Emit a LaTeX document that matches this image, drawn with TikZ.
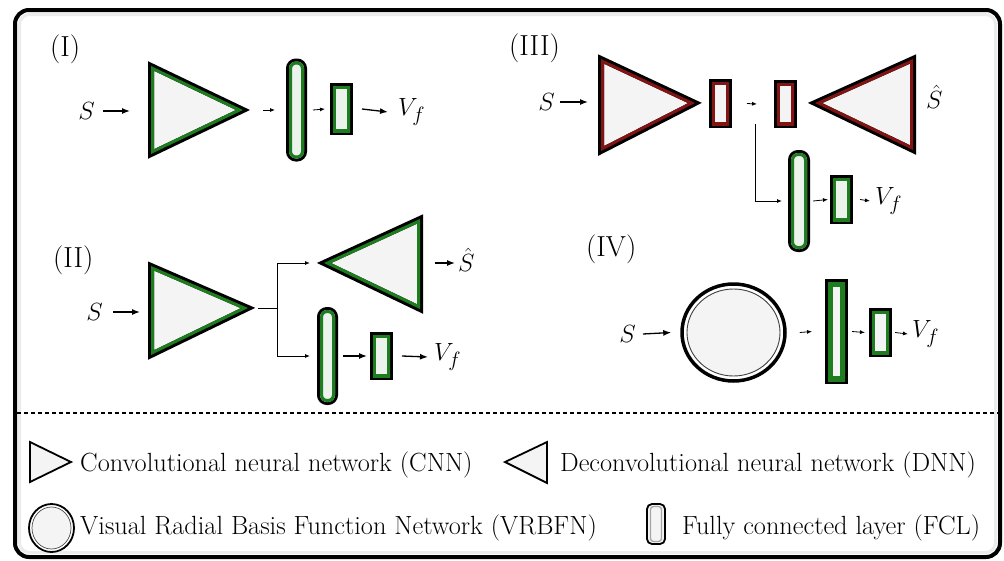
\documentclass[tikz,border=0pt]{standalone}
\usetikzlibrary{arrows.meta,shapes.geometric}
\definecolor{gband}{RGB}{30,125,30}
\definecolor{rband}{RGB}{130,20,20}
\definecolor{shfill}{RGB}{244,244,244}
\definecolor{gfill}{RGB}{236,243,236}
\newcommand\bandtri[3]{%
  \fill[shfill] #3;
  \draw[black, line width=6pt, miter limit=6] #3;
  \begin{scope}\clip #3; \draw[#1, line width=#2] #3; \end{scope}}
\tikzset{
 arr/.style={line width=1.3pt, -{Latex[length=8pt,width=6pt]}},
 sarr/.style={line width=0.8pt, -{Latex[length=5pt,width=4pt]}},
 plainline/.style={line width=0.9pt},
 mth/.style={inner sep=0pt, font=\fontsize{31}{33}\selectfont},
 lab/.style={inner sep=0pt, font=\fontsize{29}{32}\selectfont, anchor=base west},
 leg/.style={inner sep=0pt, font=\fontsize{26.3}{30}\selectfont, anchor=base west},
 band/.style n args={3}{rectangle, inner sep=0pt, outer sep=0pt,
   preaction={draw=black, line width=6pt}, fill=#3,
   path picture={\draw[#1, line width=#2] (path picture bounding box.south west) rectangle (path picture bounding box.north east);}},
 fclbox/.style={rounded corners=7pt},
}
\begin{document}
\begin{tikzpicture}[x=1pt,y=-1pt]
\useasboundingbox (0,0) rectangle (1004,560);
\fill[white] (0,0) rectangle (1004,560);
% frame
\draw[black, line width=4pt, rounded corners=14pt, fill=white] (15,10) rectangle (1000,557);
\draw[gray!15, line width=3pt, rounded corners=10pt] (19.5,14.5) rectangle (995.5,552.5);
\draw[black, line width=1.8pt, dash pattern=on 4pt off 3pt] (17,413) -- (998,413);

% ---------------- (I)
\node[lab] (l1) at (50,56) {(I)};
\node[mth, anchor=east] (S1) at (95,111) {$S$};
\coordinate (c1L) at (151,111);
\coordinate (c1A) at (243,110);
\bandtri{gband}{6pt}{(151,66) -- (243,110) -- (151,154) -- cycle}
\node[band={gband}{6pt}{gfill}, fclbox, minimum width=15pt, minimum height=97pt] (f1) at (296.5,110) {};
\node[band={gband}{6pt}{gfill}, minimum width=17pt, minimum height=46pt] (r1) at (341.5,109) {};
\node[mth, anchor=west] (V1) at (398,112) {$V_f$};
\draw[arr] ([xshift=8pt]S1.east) -- ([xshift=-21pt]c1L);
\draw[sarr] ([xshift=20pt]c1A) -- ([xshift=-14pt]f1.west);
\draw[sarr] ([xshift=9pt]f1.east) -- ([xshift=-8pt]r1.west);
\draw[arr] ([xshift=12pt]r1.east) -- ([xshift=-10pt]V1.west);

% ---------------- (II)
\node[lab] (l2) at (53,267) {(II)};
\node[mth, anchor=east] (S2) at (103,312) {$S$};
\coordinate (c2L) at (151,312);
\coordinate (c2A) at (248,308);
\coordinate (split2) at (277,308);
\coordinate (d2A) at (324,263);
\coordinate (d2R) at (420,263);
\bandtri{gband}{6pt}{(151,266) -- (248,308) -- (151,355) -- cycle}
\bandtri{gband}{6pt}{(324,263) -- (420,219) -- (420,309) -- cycle}
\node[band={gband}{6pt}{gfill}, fclbox, minimum width=15pt, minimum height=92pt] (f2) at (327.5,356) {};
\node[band={gband}{6pt}{gfill}, minimum width=17pt, minimum height=42pt] (r2) at (381.5,356) {};
\node[mth, anchor=west] (Sh2) at (458,260) {$\hat{S}$};
\node[mth, anchor=west] (V2) at (434,357) {$V_f$};
\draw[arr] ([xshift=10pt]S2.east) -- ([xshift=-11pt]c2L);
\draw[plainline] ([xshift=10pt]c2A) -- (split2);
\draw[sarr, line width=0.9pt] (split2) |- ([xshift=-14pt]d2A);
\draw[sarr, line width=0.9pt] (split2) |- ([xshift=-10pt]f2.west);
\draw[arr] ([xshift=15pt]d2R) -- ([xshift=35pt]d2R);
\draw[arr] ([xshift=8pt]f2.east) -- ([xshift=-6pt]r2.west);
\draw[arr] ([xshift=12pt]r2.east) -- ([xshift=-6pt]V2.west);

% ---------------- (III)
\node[lab] (l3) at (509,55) {(III)};
\node[mth, anchor=east] (S3) at (555,102) {$S$};
\coordinate (c3L) at (601,102);
\bandtri{rband}{6pt}{(601,59) -- (695,103) -- (601,151) -- cycle}
\bandtri{rband}{6pt}{(815,103) -- (913,59) -- (913,150) -- cycle}
\node[band={rband}{6pt}{shfill}, minimum width=17pt, minimum height=43pt] (rr1) at (720.5,103.5) {};
\node[band={rband}{6pt}{shfill}, minimum width=17pt, minimum height=42pt] (rr2) at (785.5,104) {};
\node[mth, anchor=west] (Sh3) at (926,97) {$\hat{S}$};
\coordinate (b3) at (755,124);
\node[band={gband}{6pt}{gfill}, fclbox, minimum width=16pt, minimum height=96pt] (f3) at (799,201) {};
\node[band={gband}{6pt}{gfill}, minimum width=17pt, minimum height=43pt] (r3) at (841.5,199.5) {};
\node[mth, anchor=west] (V3) at (875,201) {$V_f$};
\draw[arr] ([xshift=5pt]S3.east) -- ([xshift=-13pt]c3L);
\draw[sarr] ([xshift=18pt]rr1.east) -- ([xshift=-20pt]rr2.west);
\draw[sarr, line width=0.9pt] (b3) |- ([xshift=-9pt]f3.west);
\draw[sarr] ([xshift=6pt]f3.east) -- ([xshift=-5pt]r3.west);
\draw[sarr] ([xshift=10pt]r3.east) -- ([xshift=-5pt]V3.west);

% ---------------- (IV)
\node[lab] (l4) at (586,256) {(IV)};
\node[mth, anchor=east] (S4) at (636,334) {$S$};
\node[ellipse, draw=black, line width=3.5pt, fill=white, inner sep=0pt,
      minimum width=103pt, minimum height=97pt] (circ) at (733.5,332.5) {};
\draw[black!75, line width=0.9pt, fill=shfill] (circ.center) ellipse [x radius=46.5, y radius=43.5];
\node[band={gband}{10pt}{shfill}, minimum width=17pt, minimum height=99pt] (t4) at (836.5,331.5) {};
\node[band={gband}{6pt}{shfill}, minimum width=17pt, minimum height=43pt] (r4) at (880.5,332.5) {};
\node[mth, anchor=west] (V4) at (912,334) {$V_f$};
\draw[arr] ([xshift=7pt]S4.east) -- ([xshift=-9pt]circ.west);
\draw[sarr] ([xshift=13pt]circ.east) -- ([xshift=-16pt]t4.west);
\draw[sarr] ([xshift=7pt]t4.east) -- ([xshift=-7pt]r4.west);
\draw[sarr] ([xshift=6pt]r4.east) -- ([xshift=-4pt]V4.west);

% ---------------- legend
\draw[black, line width=1.8pt, fill=shfill] (30,442) -- (71,462) -- (30,482) -- cycle;
\node[leg] (tcnn) at (80,471) {Convolutional neural network (CNN)};
\draw[black, line width=1.8pt, fill=shfill] (505,462) -- (547,442) -- (547,483) -- cycle;
\node[leg] (tdnn) at (560,471) {Deconvolutional neural network (DNN)};
\node[ellipse, draw=black, line width=1.8pt, fill=white, inner sep=0pt,
      minimum width=45pt, minimum height=48pt] (lcirc) at (51.5,528) {};
\draw[black!70, line width=0.7pt, fill=shfill] (lcirc.center) ellipse [x radius=19.5, y radius=21];
\node[leg] (tvr) at (80,534) {Visual Radial Basis Function Network (VRBFN)};
\node[rectangle, rounded corners=5pt, draw=black, line width=1.8pt, fill=shfill, inner sep=0pt,
      minimum width=18pt, minimum height=40pt] (lfcl) at (656,524) {};
\draw[gray!70, line width=1.3pt, rounded corners=3pt] (650.5,506.5) rectangle (661.5,541.5);
\node[leg] (tfcl) at (682,534) {Fully connected layer (FCL)};
\end{tikzpicture}
\end{document}
